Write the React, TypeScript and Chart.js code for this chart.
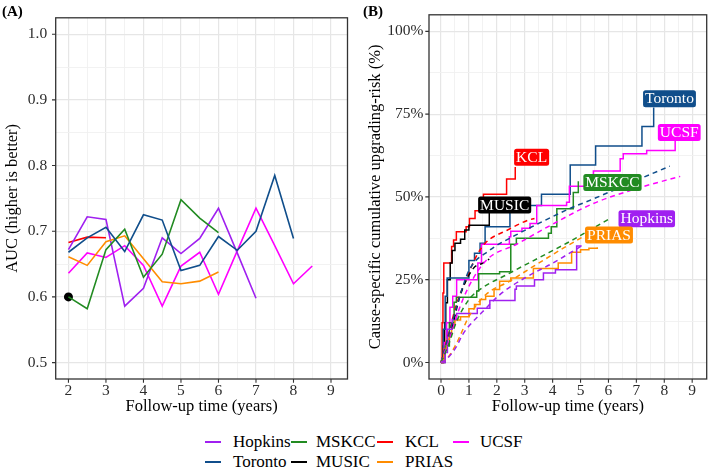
import React, { useEffect, useRef } from "react";
import { Chart, registerables } from "chart.js";
Chart.register(...registerables);

const FONT = "'Liberation Serif', 'DejaVu Serif', serif";
Chart.defaults.font.family = FONT;

const COLORS: Record<string, string> = {
  Hopkins: "#A020F0",
  Toronto: "#104E8B",
  MSKCC: "#228B22",
  MUSIC: "#000000",
  KCL: "#FF0000",
  PRIAS: "#FF8C00",
  UCSF: "#FF00FF",
};

// ---------- Panel A: time-dependent AUC ----------
const aucTimesHopkins = [2, 2.5, 3, 3.5, 4, 4.5, 5, 5.5, 6, 6.5, 7];
const aucHopkins = [0.672, 0.722, 0.718, 0.586, 0.613, 0.69, 0.666, 0.689, 0.735, 0.667, 0.598];
const aucTimesToronto = [2, 2.5, 3, 3.5, 4, 4.5, 5, 5.5, 6, 6.5, 7, 7.5, 8];
const aucToronto = [0.668, 0.69, 0.706, 0.669, 0.725, 0.717, 0.64, 0.648, 0.692, 0.671, 0.7, 0.785, 0.689];
const aucTimesMSKCC = [2, 2.5, 3, 3.5, 4, 4.5, 5, 5.5, 6];
const aucMSKCC = [0.6, 0.582, 0.672, 0.703, 0.63, 0.665, 0.748, 0.72, 0.698];
const aucTimesKCL = [2, 2.5, 3];
const aucKCL = [0.683, 0.691, 0.69];
const aucTimesMUSIC = [2];
const aucMUSIC = [0.6];
const aucTimesPRIAS = [2, 2.5, 3, 3.5, 4, 4.5, 5, 5.5, 6];
const aucPRIAS = [0.661, 0.648, 0.684, 0.693, 0.658, 0.623, 0.62, 0.624, 0.638];
const aucTimesUCSF = [2, 2.5, 3, 3.5, 4, 4.5, 5, 5.5, 6, 6.5, 7, 7.5, 8, 8.5];
const aucUCSF = [0.636, 0.667, 0.66, 0.678, 0.648, 0.586, 0.647, 0.668, 0.604, 0.67, 0.735, 0.678, 0.62, 0.647];

const xTicksA = [2, 2.5, 3, 3.5, 4, 4.5, 5, 5.5, 6, 6.5, 7, 7.5, 8, 8.5, 9];
const yTicksA = [0.5, 0.55, 0.6, 0.65, 0.7, 0.75, 0.8, 0.85, 0.9, 0.95, 1.0];

// ---------- Panel B: cumulative upgrading risk ----------
// observed (step) curves: jump times and cumulative risk
const stepTimesKCL = [0, 0.04, 0.07, 0.1, 0.38, 0.45, 0.55, 0.9, 1.02, 1.22, 1.4, 1.52, 2.35, 2.66];
const stepRiskKCL = [0, 0.12, 0.21, 0.3, 0.35, 0.37, 0.395, 0.41, 0.435, 0.458, 0.48, 0.508, 0.554, 0.59];
const stepTimesMUSIC = [0, 0.08, 0.13, 0.17, 0.23, 0.33, 0.4, 0.5, 0.7, 0.85, 1.0, 1.73];
const stepRiskMUSIC = [0, 0.05, 0.12, 0.18, 0.25, 0.3, 0.338, 0.36, 0.372, 0.4, 0.414, 0.455];
const stepTimesToronto = [0, 0.08, 0.15, 0.22, 1.0, 1.2, 1.4, 1.58, 2.47, 2.55, 3.6, 4.63, 5.54, 7.2, 7.62];
const stepRiskToronto = [0, 0.1, 0.2, 0.255, 0.308, 0.33, 0.36, 0.41, 0.454, 0.474, 0.508, 0.596, 0.654, 0.713, 0.77];
const stepTimesUCSF = [0, 0.12, 0.2, 0.32, 0.42, 0.56, 1.32, 1.45, 2.45, 2.5, 2.9, 3.19, 3.43, 4.5, 4.6, 5.34, 5.46, 6.42, 6.53, 7.37, 8.39];
const stepRiskUCSF = [0, 0.06, 0.12, 0.167, 0.2, 0.25, 0.3, 0.357, 0.38, 0.396, 0.405, 0.42, 0.474, 0.484, 0.532, 0.542, 0.578, 0.615, 0.63, 0.64, 0.669];
const stepTimesMSKCC = [0, 0.15, 0.3, 0.47, 0.55, 1.28, 1.35, 2.1, 2.5, 2.7, 3.85, 3.95, 4.15, 4.74, 4.92];
const stepRiskMSKCC = [0, 0.05, 0.12, 0.182, 0.197, 0.216, 0.268, 0.274, 0.357, 0.375, 0.39, 0.41, 0.464, 0.513, 0.547];
const stepTimesHopkins = [0, 0.15, 0.23, 0.4, 0.56, 1.3, 1.75, 2.65, 2.7, 3.35, 3.67, 4.1, 4.86, 5.04];
const stepRiskHopkins = [0, 0.03, 0.1, 0.13, 0.148, 0.164, 0.187, 0.221, 0.231, 0.25, 0.27, 0.28, 0.352, 0.352];
const stepTimesPRIAS = [0, 0.1, 0.2, 0.3, 0.38, 0.5, 0.7, 1.0, 1.2, 1.4, 1.6, 1.9, 2.1, 2.5, 3.31, 4.2, 4.68, 5.0, 5.3, 5.6];
const stepRiskPRIAS = [0, 0.04, 0.07, 0.085, 0.114, 0.128, 0.138, 0.162, 0.175, 0.19, 0.2, 0.22, 0.245, 0.255, 0.284, 0.3, 0.333, 0.34, 0.345, 0.348];

// model-predicted (dashed) curves
const fitTimesKCL = [0, 0.15, 0.3, 0.54, 0.9, 1.25, 1.58, 2.39, 3.13, 3.35];
const fitRiskKCL = [0, 0.05, 0.094, 0.172, 0.25, 0.318, 0.36, 0.4, 0.43, 0.435];
const fitTimesMUSIC = [0, 0.3, 0.68, 1.16, 1.5, 1.73];
const fitRiskMUSIC = [0, 0.07, 0.2, 0.284, 0.3, 0.312];
const fitTimesToronto = [0, 0.3, 0.6, 1.01, 1.73, 2.71, 3.5, 4.62, 5.46, 7.0, 8.2];
const fitRiskToronto = [0, 0.09, 0.18, 0.279, 0.338, 0.386, 0.42, 0.465, 0.494, 0.55, 0.593];
const fitTimesUCSF = [0, 0.3, 0.6, 1.0, 1.64, 2.71, 3.79, 5.46, 7.0, 8.57];
const fitRiskUCSF = [0, 0.07, 0.15, 0.23, 0.31, 0.357, 0.408, 0.48, 0.525, 0.562];
const fitTimesMSKCC = [0, 0.3, 0.54, 1.0, 1.4, 2.35, 3.55, 4.5, 6.06];
const fitRiskMSKCC = [0, 0.06, 0.12, 0.19, 0.221, 0.265, 0.318, 0.36, 0.435];
const fitTimesHopkins = [0, 0.2, 0.54, 0.78, 1.0, 1.49, 2.11, 3.0, 4.0, 5.1];
const fitRiskHopkins = [0, 0.01, 0.046, 0.085, 0.11, 0.153, 0.205, 0.255, 0.3, 0.355];
const fitTimesPRIAS = [0, 0.2, 0.54, 1.01, 1.61, 2.45, 3.31, 4.38, 5.1];
const fitRiskPRIAS = [0, 0.01, 0.055, 0.14, 0.205, 0.245, 0.29, 0.345, 0.38];

const xTicksB = [0, 0.5, 1, 1.5, 2, 2.5, 3, 3.5, 4, 4.5, 5, 5.5, 6, 6.5, 7, 7.5, 8, 8.5, 9];
const yTicksB = [0, 0.125, 0.25, 0.375, 0.5, 0.625, 0.75, 0.875, 1.0];

// end-of-curve labels (data coordinates of the box's lower-left corner)
const labelNames = ["Toronto", "UCSF", "KCL", "MSKCC", "MUSIC", "Hopkins", "PRIAS"];
const labelTimes = [7.24, 7.77, 2.62, 5.1, 1.33, 6.36, 5.16];
const labelRisks = [0.771, 0.669, 0.594, 0.518, 0.45, 0.408, 0.359];

// legend
const legendRow1 = ["Hopkins", "MSKCC", "KCL", "UCSF"];
const legendRow2 = ["Toronto", "MUSIC", "PRIAS"];

const pts = (xs: number[], ys: number[]) => xs.map((x, i) => ({ x, y: ys[i] }));
const near = (v: number, step: number) => Math.abs(v / step - Math.round(v / step)) < 1e-6;

function makeFrame(isMajX: (v: number) => boolean, isMajY: (v: number) => boolean) {
  return {
    id: "frame",
    afterDatasetsDraw(chart: any) {
      const { ctx, chartArea: a, scales } = chart;
      ctx.save();
      ctx.strokeStyle = "#333333";
      ctx.lineWidth = 1.1;
      ctx.beginPath();
      for (const t of scales.x.ticks) {
        if (!isMajX(t.value)) continue;
        const px = scales.x.getPixelForValue(t.value);
        ctx.moveTo(px, a.bottom);
        ctx.lineTo(px, a.bottom + 3.7);
      }
      for (const t of scales.y.ticks) {
        if (!isMajY(t.value)) continue;
        const py = scales.y.getPixelForValue(t.value);
        ctx.moveTo(a.left, py);
        ctx.lineTo(a.left - 3.7, py);
      }
      ctx.stroke();
      ctx.lineWidth = 1.3;
      ctx.strokeRect(a.left, a.top, a.right - a.left, a.bottom - a.top);
      ctx.restore();
    },
  };
}

const labelPlugin = {
  id: "endLabels",
  afterDraw(chart: any) {
    const { ctx, scales } = chart;
    ctx.save();
    ctx.font = `15.5px ${FONT}`;
    ctx.textBaseline = "middle";
    ctx.textAlign = "left";
    labelNames.forEach((name, i) => {
      const x = scales.x.getPixelForValue(labelTimes[i]);
      const yb = scales.y.getPixelForValue(labelRisks[i]);
      const w = ctx.measureText(name).width + 4;
      const h = 17;
      ctx.fillStyle = COLORS[name];
      ctx.beginPath();
      (ctx as any).roundRect(x, yb - h, w, h, 2.5);
      ctx.fill();
      ctx.fillStyle = "#ffffff";
      ctx.fillText(name, x + 2, yb - h / 2 + 0.5);
    });
    ctx.restore();
  },
};

function gridOpts(isMaj: (v: number) => boolean) {
  return {
    drawTicks: false,
    color: (c: any) => (c.tick && isMaj(c.tick.value) ? "#E6E6E6" : "#F1F1F1"),
    lineWidth: (c: any) => (c.tick && isMaj(c.tick.value) ? 1.2 : 0.9),
  };
}

const TICK_COLOR = "#2b2b2b";
const tickFont = { family: FONT, size: 15.5 };
const titleFont = { family: FONT, size: 16.5 };

export default function App() {
  const refA = useRef<HTMLCanvasElement>(null);
  const refB = useRef<HTMLCanvasElement>(null);

  useEffect(() => {
    const majA_x = (v: number) => near(v, 1);
    const majA_y = (v: number) => near(v, 0.1);
    const majB_x = (v: number) => near(v, 1);
    const majB_y = (v: number) => near(v, 0.25);

    const aSeries: [string, number[], number[]][] = [
      ["Toronto", aucTimesToronto, aucToronto],
      ["MSKCC", aucTimesMSKCC, aucMSKCC],
      ["PRIAS", aucTimesPRIAS, aucPRIAS],
      ["Hopkins", aucTimesHopkins, aucHopkins],
      ["UCSF", aucTimesUCSF, aucUCSF],
      ["KCL", aucTimesKCL, aucKCL],
    ];
    const dsA: any[] = aSeries.map(([n, xs, ys]) => ({
      label: n,
      data: pts(xs, ys),
      borderColor: COLORS[n],
      borderWidth: 1.6,
      pointRadius: 0,
      fill: false,
      tension: 0,
    }));
    dsA.push({
      label: "MUSIC",
      data: pts(aucTimesMUSIC, aucMUSIC),
      borderColor: COLORS.MUSIC,
      backgroundColor: COLORS.MUSIC,
      showLine: false,
      pointRadius: 4.5,
      pointBorderWidth: 0,
    });

    const chartA = new Chart(refA.current!, {
      type: "line",
      data: { datasets: dsA },
      plugins: [makeFrame(majA_x, majA_y)],
      options: {
        responsive: false,
        animation: false,
        devicePixelRatio: 1,
        font: { family: FONT },
        layout: { padding: { left: 0, top: 3.3, right: 2.7, bottom: 3 } },
        plugins: { legend: { display: false }, tooltip: { enabled: false } },
        scales: {
          x: {
            type: "linear",
            min: 1.66,
            max: 9.44,
            afterBuildTicks: (s: any) => { s.ticks = xTicksA.map((v) => ({ value: v })); },
            afterFit: (s: any) => { s.height = 38; },
            grid: gridOpts(majA_x),
            border: { display: false },
            ticks: {
              autoSkip: false, maxRotation: 0, padding: 2.5, color: TICK_COLOR,
              font: tickFont,
              callback: (v: any) => (majA_x(Number(v)) ? String(Math.round(Number(v))) : ""),
            },
            title: { display: true, text: "Follow-up time (years)", color: "#000", font: titleFont, padding: { top: 0, bottom: 0 } },
          },
          y: {
            type: "linear",
            min: 0.475,
            max: 1.025,
            afterBuildTicks: (s: any) => { s.ticks = yTicksA.map((v) => ({ value: v })); },
            afterFit: (s: any) => { s.width = 55.7; },
            grid: gridOpts(majA_y),
            border: { display: false },
            ticks: {
              autoSkip: false, padding: 8.5, color: TICK_COLOR,
              font: tickFont,
              callback: (v: any) => (majA_y(Number(v)) ? Number(v).toFixed(1) : ""),
            },
            title: { display: true, text: "AUC (higher is better)", color: "#000", font: titleFont, padding: { top: 3, bottom: 0 } },
          },
        },
      } as any,
    });

    const stepSeries: [string, number[], number[]][] = [
      ["Hopkins", stepTimesHopkins, stepRiskHopkins],
      ["PRIAS", stepTimesPRIAS, stepRiskPRIAS],
      ["MSKCC", stepTimesMSKCC, stepRiskMSKCC],
      ["UCSF", stepTimesUCSF, stepRiskUCSF],
      ["Toronto", stepTimesToronto, stepRiskToronto],
      ["MUSIC", stepTimesMUSIC, stepRiskMUSIC],
      ["KCL", stepTimesKCL, stepRiskKCL],
    ];
    const fitSeries: [string, number[], number[]][] = [
      ["Hopkins", fitTimesHopkins, fitRiskHopkins],
      ["PRIAS", fitTimesPRIAS, fitRiskPRIAS],
      ["MSKCC", fitTimesMSKCC, fitRiskMSKCC],
      ["UCSF", fitTimesUCSF, fitRiskUCSF],
      ["Toronto", fitTimesToronto, fitRiskToronto],
      ["MUSIC", fitTimesMUSIC, fitRiskMUSIC],
      ["KCL", fitTimesKCL, fitRiskKCL],
    ];
    const dsB: any[] = [
      ...fitSeries.map(([n, xs, ys]) => ({
        label: n + " fit",
        data: pts(xs, ys),
        borderColor: COLORS[n],
        borderWidth: 1.5,
        borderDash: [5, 4],
        pointRadius: 0,
        fill: false,
        cubicInterpolationMode: "monotone",
      })),
      ...stepSeries.map(([n, xs, ys]) => ({
        label: n,
        data: pts(xs, ys),
        borderColor: COLORS[n],
        borderWidth: 1.5,
        pointRadius: 0,
        fill: false,
        stepped: "before",
      })),
    ];

    const chartB = new Chart(refB.current!, {
      type: "line",
      data: { datasets: dsB },
      plugins: [makeFrame(majB_x, majB_y), labelPlugin],
      options: {
        responsive: false,
        animation: false,
        devicePixelRatio: 1,
        font: { family: FONT },
        layout: { padding: { left: 0, top: 3.3, right: 2.3, bottom: 3 } },
        plugins: { legend: { display: false }, tooltip: { enabled: false } },
        scales: {
          x: {
            type: "linear",
            min: -0.43,
            max: 9.52,
            afterBuildTicks: (s: any) => { s.ticks = xTicksB.map((v) => ({ value: v })); },
            afterFit: (s: any) => { s.height = 38; },
            grid: gridOpts(majB_x),
            border: { display: false },
            ticks: {
              autoSkip: false, maxRotation: 0, padding: 2.5, color: TICK_COLOR,
              font: tickFont,
              callback: (v: any) => (majB_x(Number(v)) ? String(Math.round(Number(v))) : ""),
            },
            title: { display: true, text: "Follow-up time (years)", color: "#000", font: titleFont, padding: { top: 0, bottom: 0 } },
          },
          y: {
            type: "linear",
            min: -0.05,
            max: 1.05,
            afterBuildTicks: (s: any) => { s.ticks = yTicksB.map((v) => ({ value: v })); },
            afterFit: (s: any) => { s.width = 69; },
            grid: gridOpts(majB_y),
            border: { display: false },
            ticks: {
              autoSkip: false, padding: 5.5, color: TICK_COLOR,
              font: tickFont,
              callback: (v: any) => (majB_y(Number(v)) ? Math.round(Number(v) * 100) + "%" : ""),
            },
            title: { display: true, text: "Cause-specific cumulative upgrading-risk (%)", color: "#000", font: titleFont, padding: { top: 6, bottom: 0 } },
          },
        },
      } as any,
    });

    return () => {
      chartA.destroy();
      chartB.destroy();
    };
  }, []);

  const legendCols = [
    { line: 205, text: 233 },
    { line: 291, text: 316 },
    { line: 377, text: 405 },
    { line: 453, text: 480 },
  ];
  const legendItem = (name: string, col: number, yc: number) => (
    <React.Fragment key={name}>
      <div style={{ position: "absolute", left: legendCols[col].line, top: yc - 1, width: 16, height: 2, background: COLORS[name] }} />
      <div style={{ position: "absolute", left: legendCols[col].text, top: yc - 10, height: 20, lineHeight: "20px", fontSize: 17, color: "#000", whiteSpace: "nowrap" }}>{name}</div>
    </React.Fragment>
  );

  return (
    <div style={{ position: "fixed", left: 0, top: 0, width: 709, height: 474, background: "#fff", fontFamily: FONT, overflow: "hidden" }}>
      <canvas ref={refA} width={352} height={420} style={{ position: "absolute", left: 0, top: 0, width: 352, height: 420 }} />
      <canvas ref={refB} width={349} height={420} style={{ position: "absolute", left: 360, top: 0, width: 349, height: 420 }} />
      <div style={{ position: "absolute", left: 2, top: 2, fontSize: 15, fontWeight: "bold", lineHeight: "18px" }}>(A)</div>
      <div style={{ position: "absolute", left: 363, top: 2, fontSize: 15, fontWeight: "bold", lineHeight: "18px" }}>(B)</div>
      {legendRow1.map((n, i) => legendItem(n, i, 442))}
      {legendRow2.map((n, i) => legendItem(n, i, 462))}
    </div>
  );
}
